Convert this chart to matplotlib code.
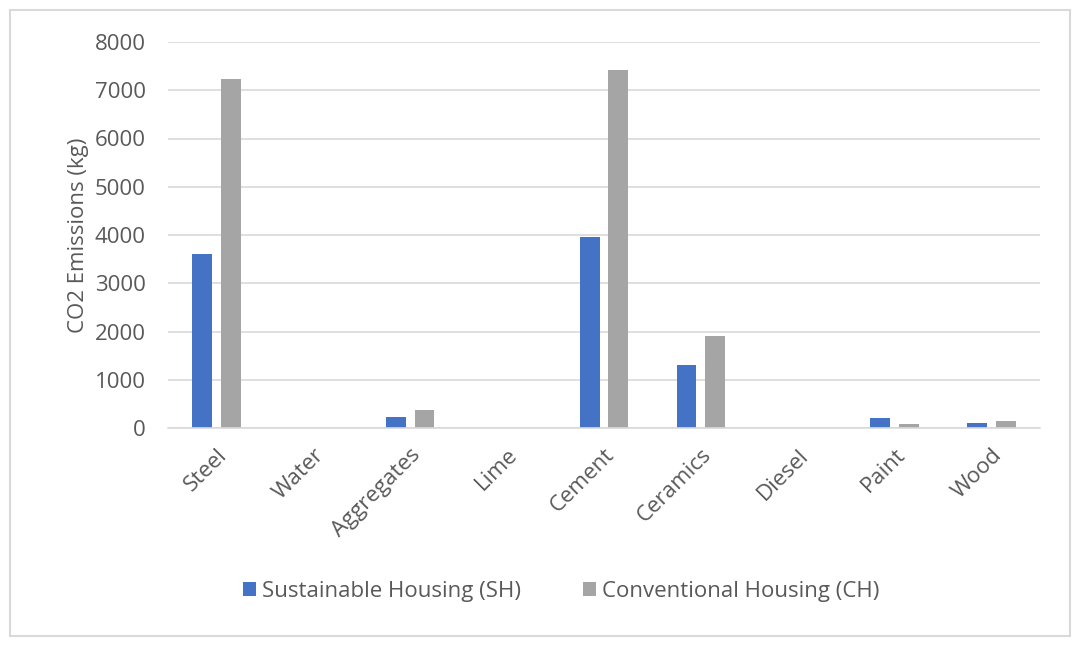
import matplotlib
matplotlib.use("Agg")
import matplotlib.pyplot as plt
import numpy as np
from matplotlib.patches import Rectangle

categories = ["Steel", "Water", "Aggregates", "Lime", "Cement", "Ceramics", "Diesel", "Paint", "Wood"]
sh_values = [3600, 0, 230, 0, 3950, 1305, 0, 200, 110]
ch_values = [7230, 0, 375, 0, 7420, 1905, 0, 85, 140]
series_names = ["Sustainable Housing (SH)", "Conventional Housing (CH)"]
y_ticks = [0, 1000, 2000, 3000, 4000, 5000, 6000, 7000, 8000]

plt.rcParams['font.family'] = ['Open Sans', 'DejaVu Sans']
text_color = "#595959"

fig = plt.figure(figsize=(10.81, 6.47), dpi=100)
fig.patches.append(Rectangle((10/1081, 11/647), 1060/1081, 626/647, transform=fig.transFigure,
                             fill=False, edgecolor="#d9d9d9", linewidth=1.5))
ax = fig.add_axes([168/1081, 1 - 428/647, (1040-168)/1081, (428-42)/647])

x = np.arange(len(categories))
w = 0.205
ax.bar(x - 0.148, sh_values, w, color="#4472c4", label=series_names[0])
ax.bar(x + 0.148, ch_values, w, color="#a5a5a5", label=series_names[1])

ax.set_xlim(-0.5, len(categories) - 0.5)
ax.set_ylim(0, 8000)
ax.set_yticks(y_ticks)
ax.set_yticklabels([str(v) for v in y_ticks])
ax.yaxis.grid(True, color="#d9d9d9", linewidth=1.2)
ax.set_axisbelow(True)
for s in ["top", "right", "left"]:
    ax.spines[s].set_visible(False)
ax.spines["bottom"].set_color("#d9d9d9")
ax.spines["bottom"].set_linewidth(1.2)
ax.tick_params(axis="both", length=0, labelsize=16, colors=text_color)
ax.tick_params(axis="y", pad=16)
ax.tick_params(axis="x", pad=12)
ax.set_xticks(x)
ax.set_xticklabels(categories, rotation=45, ha="right", rotation_mode="anchor")
ax.set_ylabel("CO2 Emissions (kg)", fontsize=16, color=text_color, labelpad=4)

fig.legend(loc="center", bbox_to_anchor=(561/1081, 1 - 591/647), ncol=2, frameon=False,
           fontsize=16, labelcolor=text_color, handlelength=0.6, handleheight=0.6,
           columnspacing=2.8, handletextpad=0.25)

fig.savefig("out.png", dpi=100)
